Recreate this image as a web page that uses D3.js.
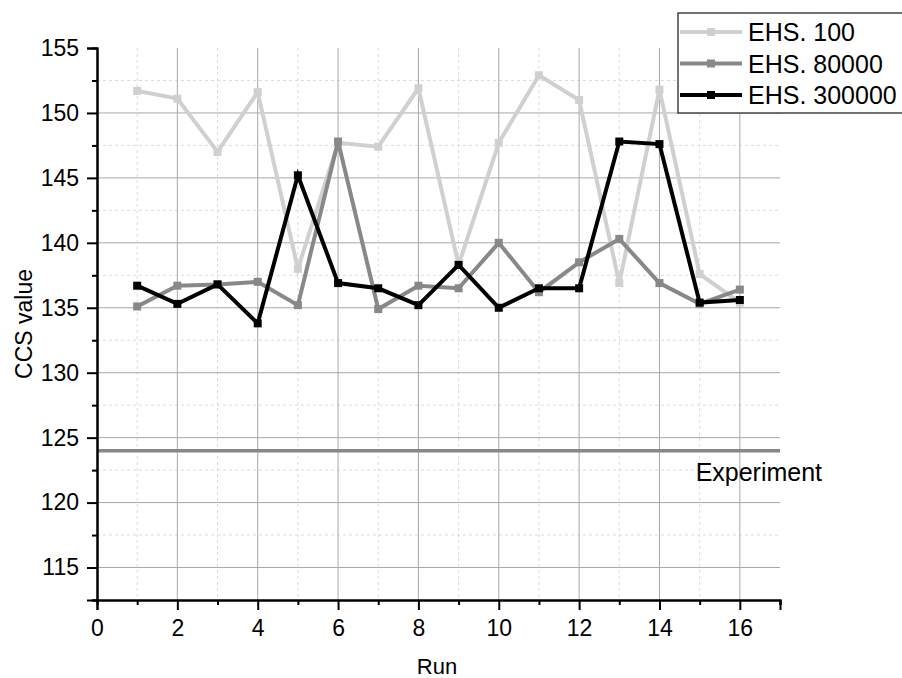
<!DOCTYPE html>
<html>
<head>
<meta charset="utf-8">
<script src="https://cdn.jsdelivr.net/npm/d3@7"></script>
<style>
  body { margin: 0; background: #fff; }
  text { font-family: "Liberation Sans", Arial, sans-serif; }
</style>
</head>
<body>
<div class="chart"></div>
<script>
const runs = [1, 2, 3, 4, 5, 6, 7, 8, 9, 10, 11, 12, 13, 14, 15, 16];
const ehs100 = [151.7, 151.1, 147.0, 151.6, 138.0, 147.7, 147.4, 151.9, 138.3, 147.7, 152.9, 151.0, 136.9, 151.8, 137.6, 135.4];
const ehs80000 = [135.1, 136.7, 136.8, 137.0, 135.2, 147.8, 134.9, 136.7, 136.5, 140.0, 136.2, 138.5, 140.3, 136.9, 135.3, 136.4];
const ehs300000 = [136.7, 135.3, 136.8, 133.8, 145.2, 136.9, 136.5, 135.2, 138.3, 135.0, 136.5, 136.5, 147.8, 147.6, 135.4, 135.6];
const seriesNames = ['EHS. 100', 'EHS. 80000', 'EHS. 300000'];
const seriesColors = ['#d0d0d0', '#888888', '#000000'];
const experimentValue = 124;
const xTicks = [0, 2, 4, 6, 8, 10, 12, 14, 16];
const yTicks = [115, 120, 125, 130, 135, 140, 145, 150, 155];

const margin = ({top: 48, right: 122, bottom: 78, left: 97});
const width = 902 - margin.left - margin.right;
const height = 678 - margin.top - margin.bottom;

const root = d3.select('.chart')
    .append('svg')
    .attr('width', 902)
    .attr('height', 678);
const svg = root.append('g')
    .attr('transform', 'translate(' + margin.left + ',' + margin.top + ')');

const xScale = d3.scaleLinear().domain([0, 17]).range([0, width]);
const yScale = d3.scaleLinear().domain([112.5, 155]).range([height, 0]);

// minor grid (dashed)
const xMinor = d3.range(1, 17, 2);
const yMinor = d3.range(117.5, 155, 5);
svg.append('g').selectAll('line').data(xMinor).enter().append('line')
    .attr('x1', d => xScale(d)).attr('x2', d => xScale(d))
    .attr('y1', 0).attr('y2', height)
    .attr('stroke', '#dcdcdc').attr('stroke-dasharray', '3,3');
svg.append('g').selectAll('line').data(yMinor).enter().append('line')
    .attr('y1', d => yScale(d)).attr('y2', d => yScale(d))
    .attr('x1', 0).attr('x2', width)
    .attr('stroke', '#dcdcdc').attr('stroke-dasharray', '3,3');

// major grid
svg.append('g').selectAll('line').data(xTicks.filter(d => d > 0)).enter().append('line')
    .attr('x1', d => xScale(d)).attr('x2', d => xScale(d))
    .attr('y1', 0).attr('y2', height)
    .attr('stroke', '#a8a8a8');
svg.append('g').selectAll('line').data(yTicks.filter(d => d < 155)).enter().append('line')
    .attr('y1', d => yScale(d)).attr('y2', d => yScale(d))
    .attr('x1', 0).attr('x2', width)
    .attr('stroke', '#a8a8a8');

// experiment line
svg.append('line')
    .attr('x1', 0).attr('x2', width)
    .attr('y1', yScale(experimentValue)).attr('y2', yScale(experimentValue))
    .attr('stroke', '#888').attr('stroke-width', 3.5);
svg.append('text')
    .attr('x', xScale(14.9)).attr('y', yScale(experimentValue) + 30)
    .attr('font-size', 25)
    .text('Experiment');

// axes
const xAxis = d3.axisBottom(xScale).tickValues(xTicks).tickSize(10).tickPadding(3).tickFormat(d3.format('d'));
const yAxis = d3.axisLeft(yScale).tickValues(yTicks).tickSize(10).tickPadding(8).tickFormat(d3.format('d'));
const xMinorAxis = d3.axisBottom(xScale).tickValues(d3.range(1, 18, 2)).tickSize(5).tickFormat('');
const yMinorAxis = d3.axisLeft(yScale).tickValues(d3.range(112.5, 155, 5)).tickSize(5).tickFormat('');

svg.append('g').attr('transform', 'translate(0,' + height + ')').call(xMinorAxis);
svg.append('g').call(yMinorAxis);
const gx = svg.append('g').attr('class', 'axis x-axis')
    .attr('transform', 'translate(0,' + height + ')').call(xAxis);
const gy = svg.append('g').attr('class', 'axis y-axis').call(yAxis);

svg.selectAll('.domain').attr('stroke', '#000').attr('stroke-width', 2);
svg.selectAll('.tick line').attr('stroke', '#000').attr('stroke-width', 2);
gx.selectAll('text').attr('font-size', 23).attr('fill', '#000').attr('dy', '1em');
gy.selectAll('text').attr('font-size', 23).attr('fill', '#000');

// axis titles
svg.append('text')
    .attr('x', 437 - margin.left).attr('y', 674 - margin.top)
    .attr('text-anchor', 'middle').attr('font-size', 22)
    .text('Run');
svg.append('text')
    .attr('transform', 'translate(' + (32 - margin.left) + ',' + (324 - margin.top) + ') rotate(-90)')
    .attr('text-anchor', 'middle').attr('font-size', 23)
    .text('CCS value');

// series
const allSeries = [ehs100, ehs80000, ehs300000];
const line = d3.line().x((d, i) => xScale(runs[i])).y(d => yScale(d));
allSeries.forEach((vals, k) => {
    svg.append('path')
        .datum(vals)
        .attr('d', line)
        .attr('fill', 'none')
        .attr('stroke', seriesColors[k])
        .attr('stroke-width', 4)
        .attr('stroke-linejoin', 'miter');
    svg.append('g').selectAll('rect').data(vals).enter().append('rect')
        .attr('x', (d, i) => xScale(runs[i]) - 4)
        .attr('y', d => yScale(d) - 4)
        .attr('width', 8).attr('height', 8)
        .attr('fill', seriesColors[k]);
});

// legend
const legend = root.append('g').attr('transform', 'translate(678,13)');
legend.append('rect')
    .attr('x', 0).attr('y', 0).attr('width', 240).attr('height', 100)
    .attr('fill', '#fff').attr('stroke', '#444').attr('stroke-width', 1.5);
seriesNames.forEach((name, k) => {
    const yy = 19 + k * 31.5;
    legend.append('line')
        .attr('x1', 2).attr('x2', 64).attr('y1', yy).attr('y2', yy)
        .attr('stroke', seriesColors[k]).attr('stroke-width', 4);
    legend.append('rect')
        .attr('x', 29).attr('y', yy - 4).attr('width', 8).attr('height', 8)
        .attr('fill', seriesColors[k]);
    legend.append('text')
        .attr('x', 70).attr('y', yy + 9)
        .attr('font-size', 25)
        .text(name);
});
</script>
</body>
</html>
